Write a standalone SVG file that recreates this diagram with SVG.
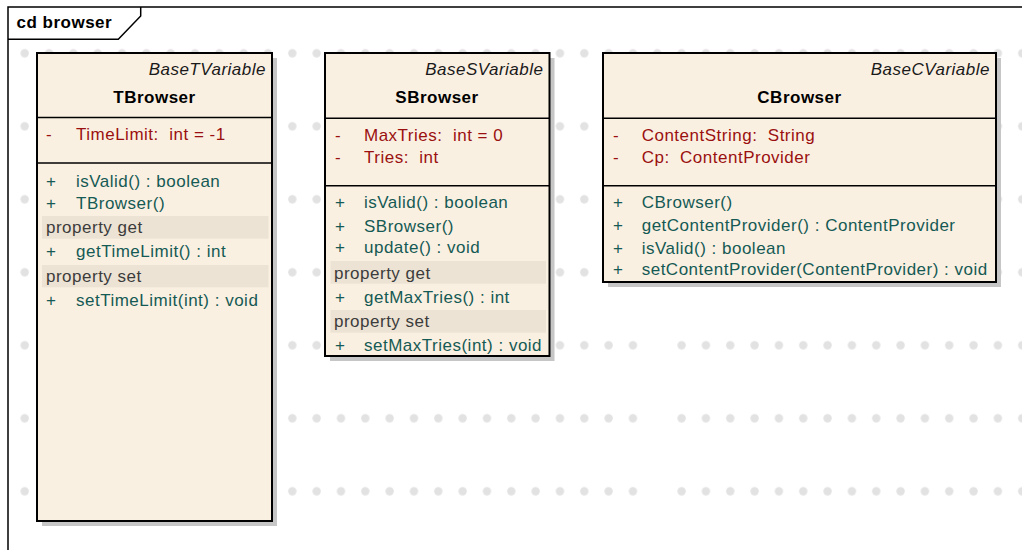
<svg xmlns="http://www.w3.org/2000/svg" width="1022" height="550" viewBox="0 0 1022 550">
  <defs>
    <!-- diagram background grid of light dots -->
    <pattern id="dotGrid" patternUnits="userSpaceOnUse" x="12.53" y="16.8" width="24.33" height="73">
      <circle cx="12.165" cy="36.5" r="4.2" fill="#e2e2e2"/>
    </pattern>
    <style>
      text { font-family: "Liberation Sans", Arial, sans-serif; font-size: 17px; letter-spacing: 0.5px; white-space: pre; }
      .frame { fill: none; stroke: #000; stroke-width: 1.5; }
      .title { font-weight: bold; fill: #000; }
      .shadow { fill: #c6c6c6; }
      .box { fill: #faf0e2; stroke: #000; stroke-width: 2; }
      .div { stroke: #000; stroke-width: 1.5; }
      .band { fill: #ede3d4; }
      .stereo { font-style: italic; fill: #1a1a1a; text-anchor: end; }
      .name { font-weight: bold; fill: #000; text-anchor: middle; }
      .attr { fill: #9a1010; }
      .op { fill: #155a54; }
      .sect { fill: #3c3c3c; }
    </style>
  </defs>

  <rect width="1022" height="550" fill="#fff"/>

  <!-- dot grid (one column left empty in the lower rows) -->
  <rect x="12.5" y="16.8" width="1009.5" height="320" fill="url(#dotGrid)"/>
  <rect x="12.5" y="336.8" width="633.5" height="190" fill="url(#dotGrid)"/>
  <rect x="670.5" y="336.8" width="351.5" height="190" fill="url(#dotGrid)"/>

  <!-- diagram frame with name tab -->
  <g id="frame">
    <path class="frame" d="M8,550 V7 H1022"/>
    <path class="frame" d="M8,39.3 H118.3 L140.7,16 V7"/>
    <text class="title" x="16.5" y="28.3">cd browser</text>
  </g>

  <!-- class TBrowser -->
  <g id="TBrowser">
    <rect class="shadow" x="42" y="58" width="235" height="468"/>
    <rect class="box" x="37" y="53" width="235" height="468"/>
    <text class="stereo" x="266" y="75">BaseTVariable</text>
    <text class="name" x="154.5" y="102.7">TBrowser</text>
    <line class="div" x1="37" y1="117.5" x2="272" y2="117.5"/>
    <text class="attr" x="46" y="140">-</text>
    <text class="attr" x="76" y="140">TimeLimit:  int = -1</text>
    <line class="div" x1="37" y1="163" x2="272" y2="163"/>
    <text class="op" x="46" y="186.7">+</text>
    <text class="op" x="76" y="186.7">isValid() : boolean</text>
    <text class="op" x="46" y="209.3">+</text>
    <text class="op" x="76" y="209.3">TBrowser()</text>
    <rect class="band" x="42" y="216" width="226.5" height="22.7"/>
    <text class="sect" x="46" y="233.3">property get</text>
    <text class="op" x="46" y="257.3">+</text>
    <text class="op" x="76" y="257.3">getTimeLimit() : int</text>
    <rect class="band" x="42" y="265" width="226.5" height="22.3"/>
    <text class="sect" x="46" y="281.7">property set</text>
    <text class="op" x="46" y="306">+</text>
    <text class="op" x="76" y="306">setTimeLimit(int) : void</text>
  </g>

  <!-- class SBrowser -->
  <g id="SBrowser">
    <rect class="shadow" x="330" y="58" width="224.5" height="303"/>
    <rect class="box" x="325" y="53" width="224.5" height="303"/>
    <text class="stereo" x="543.5" y="75">BaseSVariable</text>
    <text class="name" x="437" y="102.7">SBrowser</text>
    <line class="div" x1="325" y1="118.3" x2="549.5" y2="118.3"/>
    <text class="attr" x="335" y="140.7">-</text>
    <text class="attr" x="364" y="140.7">MaxTries:  int = 0</text>
    <text class="attr" x="335" y="163.3">-</text>
    <text class="attr" x="364" y="163.3">Tries:  int</text>
    <line class="div" x1="325" y1="185.7" x2="549.5" y2="185.7"/>
    <text class="op" x="335" y="208.3">+</text>
    <text class="op" x="364" y="208.3">isValid() : boolean</text>
    <text class="op" x="335" y="231.7">+</text>
    <text class="op" x="364" y="231.7">SBrowser()</text>
    <text class="op" x="335" y="253.3">+</text>
    <text class="op" x="364" y="253.3">update() : void</text>
    <rect class="band" x="330.5" y="261" width="215.5" height="22.7"/>
    <text class="sect" x="334" y="279">property get</text>
    <text class="op" x="335" y="302.7">+</text>
    <text class="op" x="364" y="302.7">getMaxTries() : int</text>
    <rect class="band" x="330.5" y="310" width="215.5" height="22.7"/>
    <text class="sect" x="334" y="327.3">property set</text>
    <text class="op" x="335" y="350.7">+</text>
    <text class="op" x="364" y="350.7">setMaxTries(int) : void</text>
  </g>

  <!-- class CBrowser -->
  <g id="CBrowser">
    <rect class="shadow" x="608" y="58" width="393" height="229"/>
    <rect class="box" x="603" y="53" width="393" height="229"/>
    <text class="stereo" x="990" y="75">BaseCVariable</text>
    <text class="name" x="799.5" y="102.7">CBrowser</text>
    <line class="div" x1="603" y1="118.3" x2="996" y2="118.3"/>
    <text class="attr" x="613" y="140.7">-</text>
    <text class="attr" x="641.7" y="140.7">ContentString:  String</text>
    <text class="attr" x="613" y="163.3">-</text>
    <text class="attr" x="641.7" y="163.3">Cp:  ContentProvider</text>
    <line class="div" x1="603" y1="185.7" x2="996" y2="185.7"/>
    <text class="op" x="613" y="208.3">+</text>
    <text class="op" x="641.7" y="208.3">CBrowser()</text>
    <text class="op" x="613" y="231">+</text>
    <text class="op" x="641.7" y="231">getContentProvider() : ContentProvider</text>
    <text class="op" x="613" y="254">+</text>
    <text class="op" x="641.7" y="254">isValid() : boolean</text>
    <text class="op" x="613" y="275">+</text>
    <text class="op" x="641.7" y="275">setContentProvider(ContentProvider) : void</text>
  </g>
</svg>
